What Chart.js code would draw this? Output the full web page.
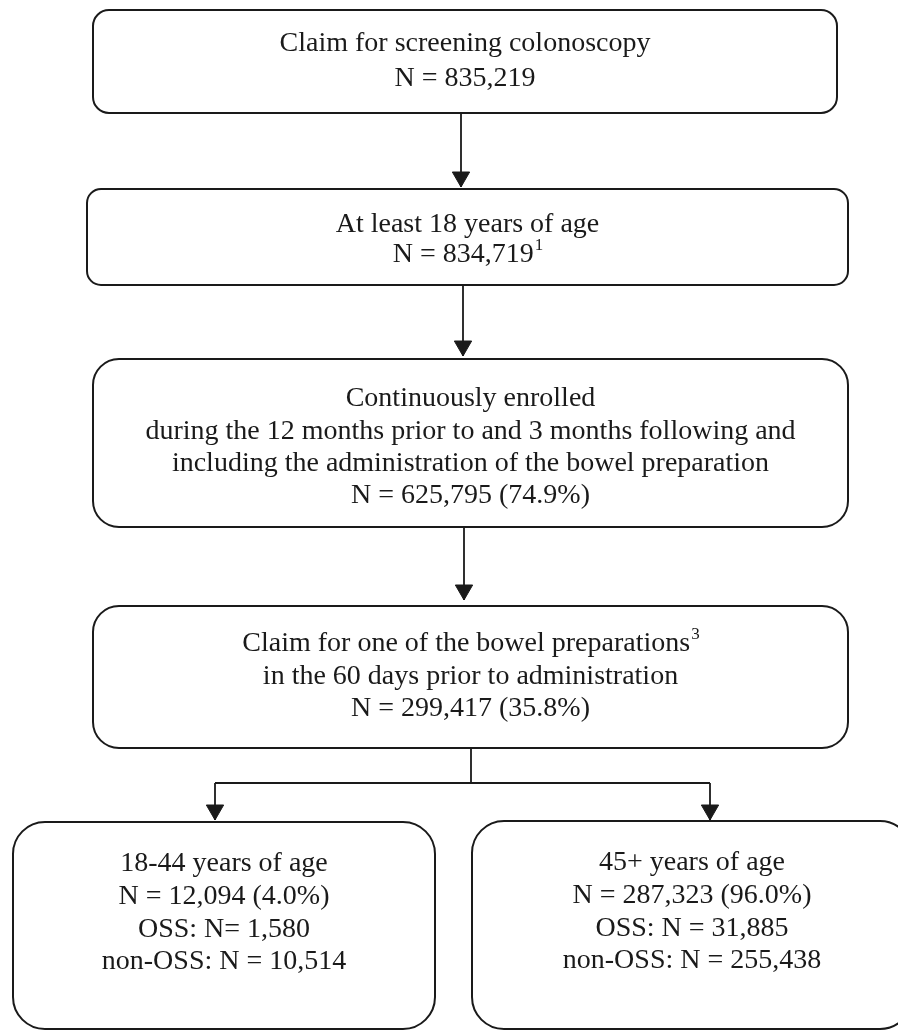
<!DOCTYPE html>
<html>
<head>
<meta charset="utf-8">
<script src="https://cdn.jsdelivr.net/npm/chart.js@4/dist/chart.umd.min.js"></script>
<style>
  body { margin: 0; background: #fff; }
  #wrap { width: 898px; height: 1030px; }
</style>
</head>
<body>
<div id="wrap"><canvas id="flow" width="898" height="1030"></canvas></div>
<script>
// text of each step, '^' marks a superscript footnote
const stepTitles = [
  ['Claim for screening colonoscopy'],
  ['At least 18 years of age'],
  ['Continuously enrolled',
   'during the 12 months prior to and 3 months following and',
   'including the administration of the bowel preparation'],
  ['Claim for one of the bowel preparations^3',
   'in the 60 days prior to administration'],
  ['18-44 years of age'],
  ['45+ years of age']
];
const stepCounts = [835219, 834719, 625795, 299417, 12094, 287323];
const stepPercents = [null, null, 74.9, 35.8, 4.0, 96.0];
const stepFootnotes = ['', '1', '', '', '', ''];
const ossLabels = [null, null, null, null, 'OSS: N= ', 'OSS: N = '];
const ossCounts = [null, null, null, null, 1580, 31885];
const nonOssCounts = [null, null, null, null, 10514, 255438];

// box geometry in canvas units: left, right, top, bottom, corner radius, first text line, line gap
const boxLayout = [
  [93, 837, 10, 113, 16, 44, 35],
  [87, 848, 189, 285, 14, 225, 30],
  [93, 848, 359, 527, 26, 399, 32.3],
  [93, 848, 606, 748, 26, 644, 32.5],
  [13, 435, 822, 1029, 32, 864, 32.7],
  [472, 912, 821, 1029, 32, 863, 32.7]
];
// connector polylines, arrow = last point is an arrow tip
const connectors = [
  { pts: [[461, 113], [461, 187]], arrow: true },
  { pts: [[463, 285], [463, 356]], arrow: true },
  { pts: [[464, 527], [464, 600]], arrow: true },
  { pts: [[471, 748], [471, 783]], arrow: false },
  { pts: [[215, 783], [710, 783]], arrow: false },
  { pts: [[215, 783], [215, 820]], arrow: true },
  { pts: [[710, 783], [710, 820]], arrow: true }
];

const ink = '#1a1a1a';
const headR = 10;
const fmt = v => v.toLocaleString('en-US');

function boxLines(i) {
  const lines = stepTitles[i].slice();
  let n = 'N = ' + fmt(stepCounts[i]);
  if (stepPercents[i] != null) n += ' (' + stepPercents[i].toFixed(1) + '%)';
  if (stepFootnotes[i]) n += '^' + stepFootnotes[i];
  lines.push(n);
  if (ossCounts[i] != null) lines.push(ossLabels[i] + fmt(ossCounts[i]));
  if (nonOssCounts[i] != null) lines.push('non-OSS: N = ' + fmt(nonOssCounts[i]));
  return lines;
}

const datasets = connectors.map(c => ({
  data: c.pts.map(p => ({ x: p[0], y: p[1] })),
  showLine: true,
  borderColor: ink,
  borderWidth: 1.8,
  pointRadius: 0,
  fill: false,
  clip: false
}));
datasets.push({
  data: connectors.filter(c => c.arrow).map(c => {
    const tip = c.pts[c.pts.length - 1];
    return { x: tip[0], y: tip[1] - headR };
  }),
  pointStyle: 'triangle',
  rotation: 180,
  pointRadius: headR,
  backgroundColor: ink,
  borderColor: ink,
  borderWidth: 1,
  showLine: false,
  clip: false
});

const boxPlugin = {
  id: 'boxes',
  beforeDatasetsDraw(chart) {
    const { ctx, scales: { x, y } } = chart;
    ctx.save();
    ctx.strokeStyle = ink;
    ctx.lineWidth = 2;
    ctx.fillStyle = '#fff';
    boxLayout.forEach(b => {
      const l = x.getPixelForValue(b[0]), r = x.getPixelForValue(b[1]);
      const t = y.getPixelForValue(b[2]), bt = y.getPixelForValue(b[3]);
      ctx.beginPath();
      ctx.roundRect(l, t, r - l, bt - t, b[4]);
      ctx.fill();
      ctx.stroke();
    });
    ctx.restore();
  },
  afterDatasetsDraw(chart) {
    const { ctx, scales: { x, y } } = chart;
    ctx.save();
    ctx.fillStyle = ink;
    ctx.textBaseline = 'middle';
    ctx.textAlign = 'left';
    const mainFont = '28px "Liberation Serif", "Times New Roman", serif';
    const supFont = '17px "Liberation Serif", "Times New Roman", serif';
    boxLayout.forEach((b, i) => {
      const cx = x.getPixelForValue((b[0] + b[1]) / 2);
      boxLines(i).forEach((line, k) => {
        const cy = y.getPixelForValue(b[5] + k * b[6]);
        const parts = line.split('^');
        ctx.font = mainFont;
        const w1 = ctx.measureText(parts[0]).width;
        let w2 = 0;
        if (parts[1]) { ctx.font = supFont; w2 = ctx.measureText(parts[1]).width; }
        const sx = cx - (w1 + w2) / 2;
        ctx.font = mainFont;
        ctx.fillText(parts[0], sx, cy);
        if (parts[1]) {
          ctx.font = supFont;
          ctx.fillText(parts[1], sx + w1 + 1, cy - 9);
        }
      });
    });
    ctx.restore();
  }
};

new Chart(document.getElementById('flow').getContext('2d'), {
  type: 'scatter',
  data: { datasets: datasets },
  options: {
    responsive: false,
    animation: false,
    layout: { padding: 0, autoPadding: false },
    scales: {
      x: { type: 'linear', min: 0, max: 898, display: false },
      y: { type: 'linear', min: 0, max: 1030, reverse: true, display: false }
    },
    plugins: { legend: { display: false }, tooltip: { enabled: false } }
  },
  plugins: [boxPlugin]
});
</script>
</body>
</html>
